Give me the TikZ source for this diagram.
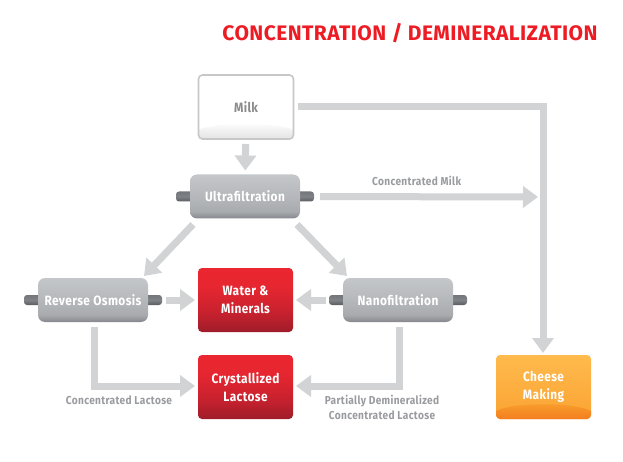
\documentclass[tikz,border=0pt]{standalone}
\usepackage{fontspec}
\setmainfont{Fira Sans}[FakeStretch=0.88,LetterSpace=3]
\newfontfamily\titlefont{Fira Sans}[LetterSpace=2]
\usetikzlibrary{arrows.meta}
\pgfdeclarelayer{bg}
\pgfsetlayers{bg,main}
\definecolor{flowgrey}{HTML}{D1D3D4}
\definecolor{labelgrey}{HTML}{999B9E}
\definecolor{titlered}{HTML}{ED1C24}
\definecolor{foottop}{HTML}{F9A02E}
\definecolor{footbottom}{HTML}{F47E20}
\pgfdeclareverticalshading{redshade}{100bp}{rgb(0bp)=(0.62,0.11,0.16);
  rgb(25bp)=(0.62,0.11,0.16);rgb(40bp)=(0.78,0.13,0.18);rgb(60bp)=(0.90,0.15,0.19);rgb(75bp)=(0.92,0.15,0.19);rgb(100bp)=(0.92,0.15,0.19)}
\pgfdeclareverticalshading{bodyshade}{100bp}{rgb(0bp)=(0.52,0.53,0.55);
  rgb(25bp)=(0.52,0.53,0.55);rgb(33bp)=(0.66,0.67,0.68);rgb(50bp)=(0.71,0.72,0.73);rgb(75bp)=(0.77,0.78,0.79);rgb(100bp)=(0.77,0.78,0.79)}
\pgfdeclareverticalshading{stubshade}{100bp}{rgb(0bp)=(0.35,0.36,0.38);
  rgb(25bp)=(0.35,0.36,0.38);rgb(50bp)=(0.50,0.51,0.53);rgb(75bp)=(0.45,0.46,0.48);rgb(100bp)=(0.45,0.46,0.48)}
\pgfdeclareverticalshading{orangeshade}{100bp}{rgb(0bp)=(0.98,0.64,0.20);
  rgb(25bp)=(0.98,0.64,0.20);rgb(75bp)=(1.00,0.73,0.30);rgb(100bp)=(1.00,0.73,0.30)}
\tikzset{
  boxnode/.style={minimum width=95,minimum height=64,inner sep=0,outer sep=0,rounded corners=4,
    align=center,font=\fontsize{13.5}{18.5}\selectfont\bfseries,text=white},
  redbox/.style={boxnode,shading=redshade},
  orangebox/.style={boxnode,shading=orangeshade,text=white},
  milkbox/.style={boxnode,fill=white,text=black!45},
  filterbody/.style={minimum width=110,minimum height=44,inner sep=0,outer sep=0,rounded corners=7,
    shading=bodyshade,text=white,font=\fontsize{13.5}{14}\selectfont\bfseries},
  stubbar/.style={minimum width=138,minimum height=10,inner sep=0,rounded corners=3,shading=stubshade},
  flow/.style={draw=flowgrey,line width=7,-{Triangle[width=21,length=15]}},
  flowlabel/.style={text=labelgrey,align=center,inner sep=0,font=\fontsize{11.5}{15}\selectfont\bfseries}
}
\begin{document}
\begin{tikzpicture}[x=1pt,y=-1pt]
\useasboundingbox (0,0) rectangle (623,462);

\node[text=titlered,inner sep=0,font=\fontsize{21}{23}\selectfont\titlefont\bfseries] (title) at (410,33)
  {CONCENTRATION / DEMINERALIZATION};

% curved foot of the two light boxes
\node[milkbox] (milk) at (246,107) {};
\begin{scope}
  \clip[rounded corners=4] (milk.north west) rectangle (milk.south east);
  \shade[top color=white,bottom color=black!11] (198,139) -- (198,130) .. controls (215,122) and (277,122) .. (294,130) -- (294,139) -- cycle;
\end{scope}
\draw[draw=black!22,line width=1.6,rounded corners=4] (milk.north west) rectangle (milk.south east);
\node[text=black!45,inner sep=0,font=\fontsize{13.5}{18}\selectfont\bfseries] (milktext) at (milk) {Milk};

\node[filterbody] (ultra) at (245,196.5) {Ultrafiltration};
\node[filterbody] (ro) at (93,300) {Reverse Osmosis};
\node[filterbody] (nano) at (398,300) {Nanofiltration};
\node[redbox] (water) at (245.5,300) {Water \&\\Minerals};
\node[redbox] (lactose) at (245.5,387) {Crystallized\\Lactose};
\node[orangebox] (cheese) at (543.5,387) {};
\begin{scope}
  \clip[rounded corners=4] (cheese.north west) rectangle (cheese.south east);
  \shade[top color=foottop,bottom color=footbottom] (496,419) -- (496,411) .. controls (513,402) and (574,402) .. (591,411) -- (591,419) -- cycle;
\end{scope}
\node[text=white,align=center,inner sep=0,font=\fontsize{13.5}{18.5}\selectfont\bfseries] (cheesetext) at (cheese) {Cheese\\Making};

\begin{pgfonlayer}{bg}
  \node[stubbar] (ultrastub) at (ultra) {};
  \node[stubbar] (rostub) at (ro) {};
  \node[stubbar] (nanostub) at (nano) {};
\end{pgfonlayer}

\coordinate (bend) at (543,107);
\coordinate (join) at (538,197);
\coordinate (robend) at (94,386);
\coordinate (nanobend) at (399,386);

\draw[flow,shorten <=5,shorten >=4] (milk) -- (ultra);
\draw[flow,-,line cap=butt] (milk.east |- milk) ++(4,0) -- (bend);
\draw[flow,shorten >=2] (bend) ++(0,-3.5) -- (cheese.north -| bend);
\draw[flow,shorten <=20] (ultra.east) -- node[flowlabel,above=8,pos=.49] (milklabel) {Concentrated Milk} (join);
\draw[flow] ([shift={(3,6)}]ultra.south west) -- ([shift={(-4,-2)}]ro.north east);
\draw[flow] ([shift={(-3,6)}]ultra.south east) -- ([shift={(4,-2)}]nano.north west);
\draw[flow,shorten <=18,shorten >=3] (ro) ++(55,0) -- (water.west);
\draw[flow,shorten <=17,shorten >=3] (nano) ++(-55,0) -- (water.east);
\draw[flow,shorten >=3,line join=miter] (ro.south -| robend) ++(0,5) -- (robend) -- (lactose.west |- robend);
\draw[flow,shorten >=3,line join=miter] (nano.south -| nanobend) ++(0,5) -- (nanobend) -- (lactose.east |- nanobend);

\node[flowlabel] (rolabel) at (119,400) {Concentrated Lactose};
\node[flowlabel] (nanolabel) at (382,407) {Partially Demineralized\\Concentrated Lactose};
\end{tikzpicture}
\end{document}
